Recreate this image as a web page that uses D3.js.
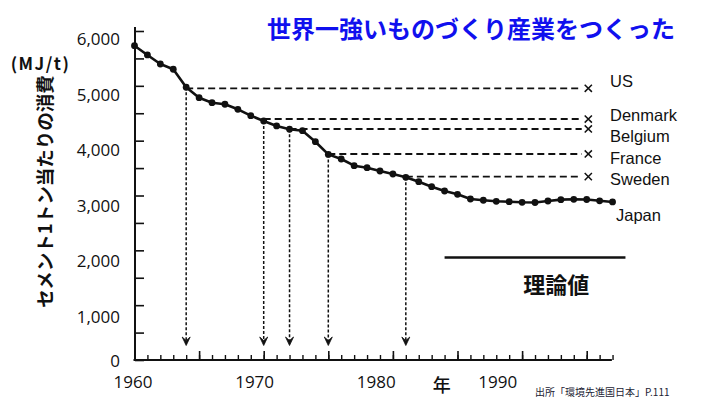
<!DOCTYPE html>
<html><head><meta charset="utf-8">
<script src="https://cdn.jsdelivr.net/npm/d3@7"></script>
<style>
html,body{margin:0;padding:0;background:#fff;overflow:hidden;}
svg{display:block;}
</style></head>
<body>
<svg id="c" width="705" height="397"></svg>
<script>
// ---- data ----
const years = [1960,1961,1962,1963,1964,1965,1966,1967,1968,1969,1970,1971,1972,1973,1974,1975,1976,1977,1978,1979,1980,1981,1982,1983,1984,1985,1986,1987,1988,1989,1990,1991,1992,1993,1994,1995,1996,1997];
const energyJapan = [5732,5563,5398,5302,4974,4784,4693,4664,4572,4456,4359,4268,4208,4182,3981,3750,3666,3544,3507,3447,3392,3332,3252,3161,3082,3022,2936,2913,2894,2887,2876,2872,2900,2924,2931,2927,2903,2882];
const countries = ["US","Denmark","Belgium","France","Sweden"];
const countryValues = [4955,4395,4213,3757,3343];
const countryMatchYears = [1964,1970,1972,1975,1981];
const theoryValue = 1870;
const theoryYears = [1984,1998];
const yTickValues = [0,500,1000,1500,2000,2500,3000,3500,4000,4500,5000,5500,6000];
const yLabelValues = [0,1000,2000,3000,4000,5000,6000];
const xMinorTicks = years;
const xMajorTicks = [1960,1965,1970,1975,1980,1985,1990,1995];
const xLabelValues = [1960,1970,1980,1990];
const titleText = "世界一強いものづくり産業をつくった";
const yTitle = "セメント1トン当たりの消費";
const yUnit = "(MJ/t)";
const xTitle = "年";
const theoryLabel = "理論値";
const seriesLabel = "Japan";
const sourceText = "出所「環境先進国日本」P.111";

// ---- layout ----
const svg = d3.select("#c");
const x = d3.scaleLinear().domain([1960,1995]).range([134.5,586.7]);
const y = d3.scaleLinear().domain([0,6000]).range([360,31]);
// label placement scales (labels in the source are slightly offset from ticks)
const xLab = d3.scaleLinear().domain([1960,1990]).range([132.5,497.3]);
const yLab = d3.scaleLinear().domain([0,1000,6000]).range([361,316.7,39.3]);
const numFont = "'Open Sans', sans-serif";
const jpFont = "'Noto Sans CJK JP', sans-serif";
const latFont = "'Liberation Sans', Arial, sans-serif";

// title
svg.append("text").attr("x",267).attr("y",27.5)
  .attr("dominant-baseline","central")
  .attr("font-family",jpFont).attr("font-weight","bold").attr("font-size",24)
  .attr("fill","#1010ee").text(titleText);

// y axis ticks (inside)
const yAxisG = svg.append("g").attr("transform","translate(135,0)")
  .call(d3.axisRight(y).tickValues(yTickValues).tickSize(9).tickFormat(""));
yAxisG.select(".domain").remove();
yAxisG.selectAll("line").attr("stroke","#111").attr("stroke-width",1.6);
svg.append("line").attr("x1",135).attr("x2",135).attr("y1",y(6000)-4).attr("y2",y(0)+1)
  .attr("stroke","#111").attr("stroke-width",2);

// y labels
const yLabG = svg.append("g").attr("transform","translate(120,0)")
  .call(d3.axisLeft(yLab).tickValues(yLabelValues).tickSize(0).tickPadding(0).tickFormat(d3.format(",")));
yLabG.select(".domain").remove();
yLabG.selectAll("text").attr("font-family",numFont).attr("font-size",17).attr("fill","#111");

// x axis
const xMinorG = svg.append("g").attr("transform","translate(0,360)")
  .call(d3.axisBottom(x).tickValues(xMinorTicks).tickSize(-5).tickFormat(""));
xMinorG.select(".domain").remove();
xMinorG.selectAll("line").attr("stroke","#111").attr("stroke-width",1.4);
const xMajorG = svg.append("g").attr("transform","translate(0,360)")
  .call(d3.axisBottom(x).tickValues(xMajorTicks).tickSize(-9).tickFormat(""));
xMajorG.select(".domain").remove();
xMajorG.selectAll("line").attr("stroke","#111").attr("stroke-width",1.6);
svg.append("line").attr("x1",x(1960)-1).attr("x2",x(1996.95)).attr("y1",360).attr("y2",360)
  .attr("stroke","#111").attr("stroke-width",2);

const xLabG = svg.append("g").attr("transform","translate(0,381)")
  .call(d3.axisBottom(xLab).tickValues(xLabelValues).tickSize(0).tickPadding(0).tickFormat(d3.format("d")));
xLabG.select(".domain").remove();
xLabG.selectAll("text").attr("dy",null).attr("dominant-baseline","central")
  .attr("font-family",numFont).attr("font-size",17).attr("fill","#111");

// axis titles
svg.append("text").attr("transform","translate(44,191.5) rotate(-90)")
  .attr("text-anchor","middle").attr("dominant-baseline","central")
  .attr("font-family",jpFont).attr("font-weight","bold").attr("font-size",18.5)
  .attr("fill","#111").text(yTitle);
svg.append("text").attr("x",40.5).attr("y",62).attr("text-anchor","middle")
  .attr("dominant-baseline","central")
  .attr("font-family",jpFont).attr("font-weight","bold").attr("font-size",17)
  .attr("letter-spacing",1.5)
  .attr("fill","#111").text(yUnit);
svg.append("text").attr("x",441.7).attr("y",384).attr("text-anchor","middle")
  .attr("dominant-baseline","central")
  .attr("font-family",jpFont).attr("font-weight","500").attr("font-size",18)
  .attr("fill","#111").text(xTitle);

// country reference lines
const jpAt = yr => energyJapan[years.indexOf(yr)];
const labelDy = [-7.6,-4,6.7,3.7,2.3];
countries.forEach((c,i)=>{
  const v = countryValues[i], yr = countryMatchYears[i];
  const yy = y(v);
  svg.append("line").attr("x1",x(yr)).attr("x2",x(1995)-5).attr("y1",yy).attr("y2",yy)
    .attr("stroke","#111").attr("stroke-width",1.8).attr("stroke-dasharray","7,4");
  const cx = x(1995)+1.6, s = 3.6;
  svg.append("path").attr("d",`M${cx-s},${yy-s}L${cx+s},${yy+s}M${cx-s},${yy+s}L${cx+s},${yy-s}`)
    .attr("stroke","#111").attr("stroke-width",1.5).attr("fill","none");
  svg.append("text").attr("x",x(1997)-2.5).attr("y",yy+labelDy[i])
    .attr("dominant-baseline","central")
    .attr("font-family",latFont).attr("font-size",16.5).attr("fill","#111").text(c);
  const ax = x(yr);
  svg.append("line").attr("x1",ax).attr("x2",ax).attr("y1",y(jpAt(yr))).attr("y2",344)
    .attr("stroke","#111").attr("stroke-width",1.5).attr("stroke-dasharray","3,2");
  svg.append("path").attr("d",`M${ax-4},${337}L${ax},${345.5}L${ax+4},${337}L${ax},${340.5}Z`)
    .attr("fill","#111").attr("stroke","#111").attr("stroke-width",0.8).attr("stroke-linejoin","round");
});

// theoretical value line
svg.append("line").attr("x1",x(theoryYears[0])).attr("x2",x(theoryYears[1]))
  .attr("y1",y(theoryValue)).attr("y2",y(theoryValue))
  .attr("stroke","#111").attr("stroke-width",2.5);
svg.append("text").attr("x",556.2).attr("y",283.3).attr("text-anchor","middle")
  .attr("dominant-baseline","central")
  .attr("font-family",jpFont).attr("font-weight","bold").attr("font-size",22)
  .attr("fill","#111").text(theoryLabel);

// Japan series
const line = d3.line().x((d,i)=>x(years[i])).y(d=>y(d));
svg.append("path").datum(energyJapan).attr("d",line)
  .attr("fill","none").attr("stroke","#111").attr("stroke-width",2.6).attr("stroke-linejoin","round");
svg.append("g").selectAll("circle").data(energyJapan).join("circle")
  .attr("cx",(d,i)=>x(years[i])).attr("cy",d=>y(d)).attr("r",3.4).attr("fill","#111");
svg.append("text").attr("x",616).attr("y",215).attr("dominant-baseline","central")
  .attr("font-family",latFont).attr("font-size",16.5).attr("fill","#111").text(seriesLabel);

// source
svg.append("text").attr("x",535).attr("y",395.5)
  .attr("font-family",jpFont).attr("font-size",10).attr("fill","#223").text(sourceText);
</script>
</body></html>
